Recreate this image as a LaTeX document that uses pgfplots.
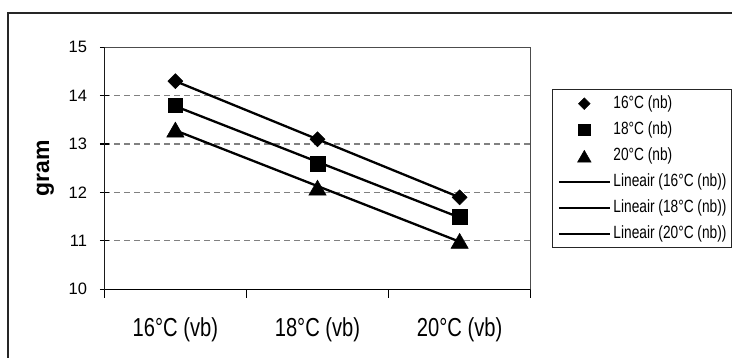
\documentclass[border=0pt]{standalone}
\usepackage{fontspec}
\setmainfont{Liberation Sans}
\newfontfamily\narrow{Liberation Sans}[FakeStretch=0.775]
\usepackage{pgfplots}
\pgfplotsset{compat=1.18}
\begin{document}
\begin{tikzpicture}
\useasboundingbox (0,0) rectangle (732bp,358bp);
\draw[black!85, line width=1.5bp] (8bp,-3bp) -- (8bp,345bp) -- (736bp,345bp);
\begin{axis}[
  at={(104.3bp,68.7bp)}, anchor=south west,
  width=426.4bp, height=242bp, scale only axis,
  xmin=0.5, xmax=3.5, ymin=10, ymax=15,
  xtick={0.5,1.5,2.5,3.5}, xticklabels={},
  extra x ticks={1,2,3},
  extra x tick labels={16°C (vb),18°C (vb),20°C (vb)},
  extra x tick style={xtick style={draw=none}},
  xtick style={yshift=-4bp, black, line width=1.3bp},
  ytick={10,11,12,13,14,15},
  ytick style={black, line width=1.2bp},
  tick pos=left,
  tick align=center, major tick length=9bp,
  /pgf/number format/assume math mode=true,
  xticklabel style={font=\narrow\fontsize{26bp}{30bp}\selectfont, anchor=base, yshift=-42.4bp, inner sep=0pt},
  yticklabel style={font=\fontsize{16.5bp}{19bp}\selectfont, anchor=east, inner sep=0pt, xshift=-12.6bp},
  ylabel={gram},
  ylabel style={font=\bfseries\fontsize{23bp}{26bp}\selectfont, at={(axis description cs:-0.138,0.5)}, anchor=center},
  ymajorgrids, grid style={gray, dash pattern=on 6bp off 4bp, line width=1.2bp},
  axis line style={gray!60!black, line width=1.4bp},
  legend image code/.code={\draw[mark repeat=2,mark phase=2,#1] plot coordinates {(0bp,0bp)(25.5bp,0bp)(51bp,0bp)};},
  legend image post style={/tikz/every mark/.append style={scale=0.78}},
  legend cell align=left,
  legend style={at={(axis description cs:1.0499,0.8277)}, anchor=north west,
    draw=black!85, line width=1.4bp, inner xsep=5bp, inner ysep=5.5bp, row sep=9bp,
    font=\narrow\fontsize{17.7bp}{20bp}\selectfont,
    nodes={inner sep=0pt, text height=13bp, text depth=4bp, anchor=west},
    /tikz/every odd column/.append style={column sep=2.5bp}},
]
\addplot[only marks, mark=square*, mark size=5.3bp, mark options={rotate=45, fill=black, draw=black, line width=0.5bp}] coordinates {(1,14.3) (2,13.1) (3,11.9)};
\addlegendentry{16°C (nb)}
\addplot[only marks, mark=square*, mark size=7.3bp, mark options={fill=black, draw=black, line width=0.5bp}] coordinates {(1,13.8) (2,12.6) (3,11.5)};
\addlegendentry{18°C (nb)}
\addplot[only marks, mark=triangle*, mark size=10bp, mark options={fill=black, draw=black, line width=0.5bp, yshift=-2.5bp}] coordinates {(1,13.3) (2,12.1) (3,11.0)};
\addlegendentry{20°C (nb)}
\addplot[black, line width=2.3bp, no marks] coordinates {(1,14.3) (3,11.9)};
\addlegendentry{Lineair (16°C (nb))}
\addplot[black, line width=2.3bp, no marks] coordinates {(1,13.783) (3,11.483)};
\addlegendentry{Lineair (18°C (nb))}
\addplot[black, line width=2.3bp, no marks] coordinates {(1,13.283) (3,10.983)};
\addlegendentry{Lineair (20°C (nb))}
\draw[black, line width=1.5bp] (rel axis cs:0,1) -- (rel axis cs:0,0) -- (rel axis cs:1,0);
\end{axis}
\end{tikzpicture}
\end{document}
